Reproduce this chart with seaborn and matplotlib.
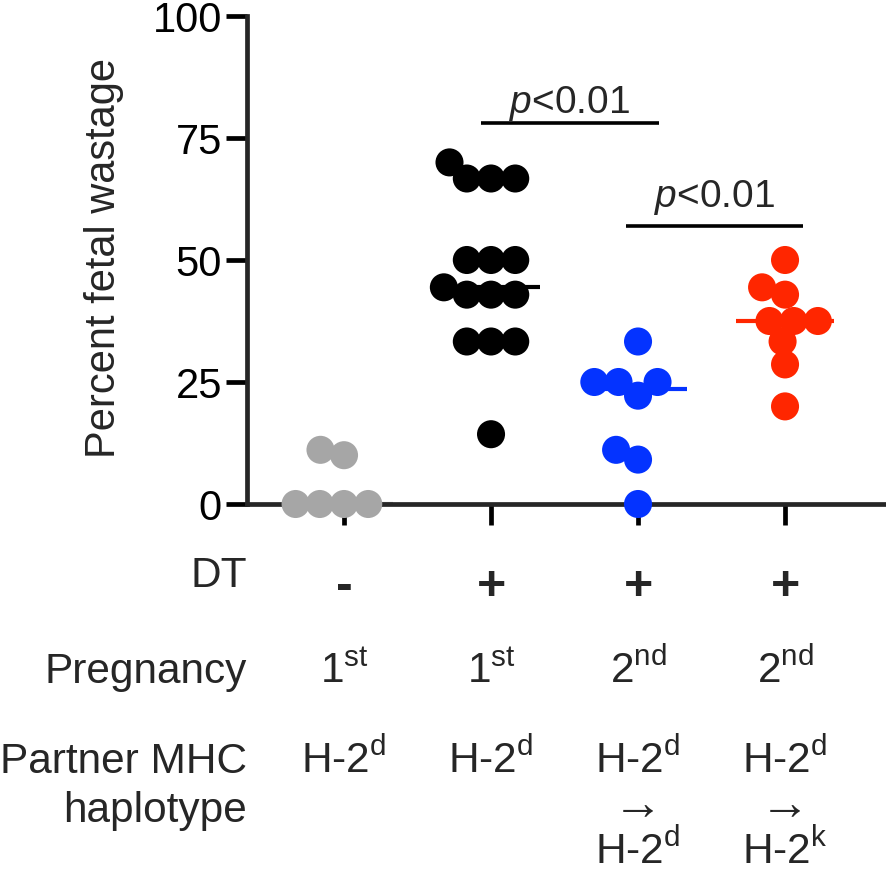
import numpy as np
import pandas as pd
import matplotlib
matplotlib.use("Agg")
import matplotlib.pyplot as plt
from matplotlib import transforms
import seaborn as sns

# ---------------- data ----------------
groups = ["G1", "G2", "G3", "G4"]
gray_vals = [0, 0, 0, 0, 10, 11.1]
black_vals = [14.3, 33.3, 33.3, 33.3, 42.9, 42.9, 42.9, 44.4,
              50, 50, 50, 66.7, 66.7, 66.7, 70]
blue_vals = [0, 9.1, 11.1, 22.2, 25, 25, 25, 33.3]
red_vals = [20, 28.6, 33.3, 37.5, 37.5, 37.5, 42.9, 44.4, 50]
colors = ["#A6A6A6", "#000000", "#0433FF", "#FF2600"]

y_ticks = [0, 25, 50, 75, 100]
y_label = "Percent fetal wastage"
dt_label = "DT"
dt_row = ["-", "+", "+", "+"]
preg_label = "Pregnancy"
preg_row = [r"1$^{\mathrm{st}}$", r"1$^{\mathrm{st}}$",
            r"2$^{\mathrm{nd}}$", r"2$^{\mathrm{nd}}$"]
mhc_label1 = "Partner MHC"
mhc_label2 = "haplotype"
mhc_row1 = [r"H-2$^{\mathrm{d}}$"] * 4
mhc_row2 = ["", "", "\u2192", "\u2192"]
mhc_row3 = ["", "", r"H-2$^{\mathrm{d}}$", r"H-2$^{\mathrm{k}}$"]
p_text = r"$\mathit{p}$<0.01"
p_pairs = [(0.93, 2.14, 78.1, 80.1), (1.92, 3.12, 57.0, 60.9)]

df = pd.DataFrame({
    "group": (["G1"] * len(gray_vals) + ["G2"] * len(black_vals)
              + ["G3"] * len(blue_vals) + ["G4"] * len(red_vals)),
    "value": gray_vals + black_vals + blue_vals + red_vals,
})

# ---------------- style ----------------
sns.set_style("ticks")
plt.rcParams["font.family"] = ["Liberation Sans", "DejaVu Sans"]
plt.rcParams["mathtext.fontset"] = "custom"
plt.rcParams["mathtext.rm"] = "Liberation Sans"
plt.rcParams["mathtext.it"] = "Liberation Sans:italic"
plt.rcParams["mathtext.bf"] = "Liberation Sans:bold"

W, H = 886, 876
fig = plt.figure(figsize=(W / 100, H / 100), dpi=100)
ax = fig.add_axes([247 / W, (H - 504) / H, (885 - 247) / W, (504 - 16) / H])

# swarm points (layout computed by seaborn with a tighter spacing)
sns.swarmplot(data=df, x="group", y="value", hue="group", order=groups,
              hue_order=groups, palette=colors, size=16.6, linewidth=0,
              legend=False, ax=ax)
swarm_colls = list(ax.collections)

# median lines
sns.pointplot(data=df, x="group", y="value", hue="group", order=groups,
              hue_order=groups, palette=colors, estimator="median",
              errorbar=None, markers="_", linestyles="none",
              markersize=70, markeredgewidth=3.0, legend=False, ax=ax)

ax.set_xlim(-0.66, 3.68)
ax.set_ylim(0, 100)
ax.set_yticks(y_ticks)
ax.set_xticks(range(len(groups)))
ax.set_xticklabels([])
ax.set_xlabel("")
ax.set_ylabel("")
sns.despine(ax=ax)
for s in ["left", "bottom"]:
    ax.spines[s].set_linewidth(3.4)
ax.tick_params(axis="both", width=3.4, length=15, labelsize=30, pad=3,
               color="black", labelcolor="black")

fig.canvas.draw()
for c in swarm_colls:
    if "draw" in c.__dict__:
        del c.draw
    c.set_sizes([20.2 ** 2])
    c.set_clip_on(False)
    c.set_zorder(3)

# y label
fig.text(104 / W, 1 - 258 / H, y_label, rotation=90, ha="center",
         va="center", fontsize=30)

# significance bars
for x0, x1, yl, yt in p_pairs:
    ax.plot([x0, x1], [yl, yl], color="black", lw=2.6, solid_capstyle="butt",
            clip_on=False)
    ax.text((x0 + x1) / 2, yt, p_text, ha="center", va="baseline",
            fontsize=28)

# table below
tr_data = transforms.blended_transform_factory(ax.transData, fig.transFigure)
tr_lab = transforms.blended_transform_factory(ax.transAxes, fig.transFigure)

def fy(py):
    return 1 - py / H

fs = 30.5
fig.text(0, fy(587), dt_label, transform=tr_lab, ha="right", va="baseline",
         fontsize=fs)
fig.text(0, fy(683), preg_label, transform=tr_lab, ha="right",
         va="baseline", fontsize=fs)
fig.text(0, fy(773), mhc_label1, transform=tr_lab, ha="right",
         va="baseline", fontsize=fs)
fig.text(0, fy(822), mhc_label2, transform=tr_lab, ha="right",
         va="baseline", fontsize=fs)

for i in range(len(groups)):
    fig.text(i, fy(587), dt_row[i], transform=tr_data, ha="center",
             va="center", fontsize=36, fontweight="bold")
    fig.text(i, fy(683), preg_row[i], transform=tr_data, ha="center",
             va="baseline", fontsize=fs)
    fig.text(i, fy(773), mhc_row1[i], transform=tr_data, ha="center",
             va="baseline", fontsize=fs)
    if mhc_row2[i]:
        fig.text(i, fy(806), mhc_row2[i], transform=tr_data, ha="center",
                 va="center", fontsize=36)
    if mhc_row3[i]:
        fig.text(i, fy(864), mhc_row3[i], transform=tr_data, ha="center",
                 va="baseline", fontsize=fs)

fig.savefig("out.png", dpi=100)
